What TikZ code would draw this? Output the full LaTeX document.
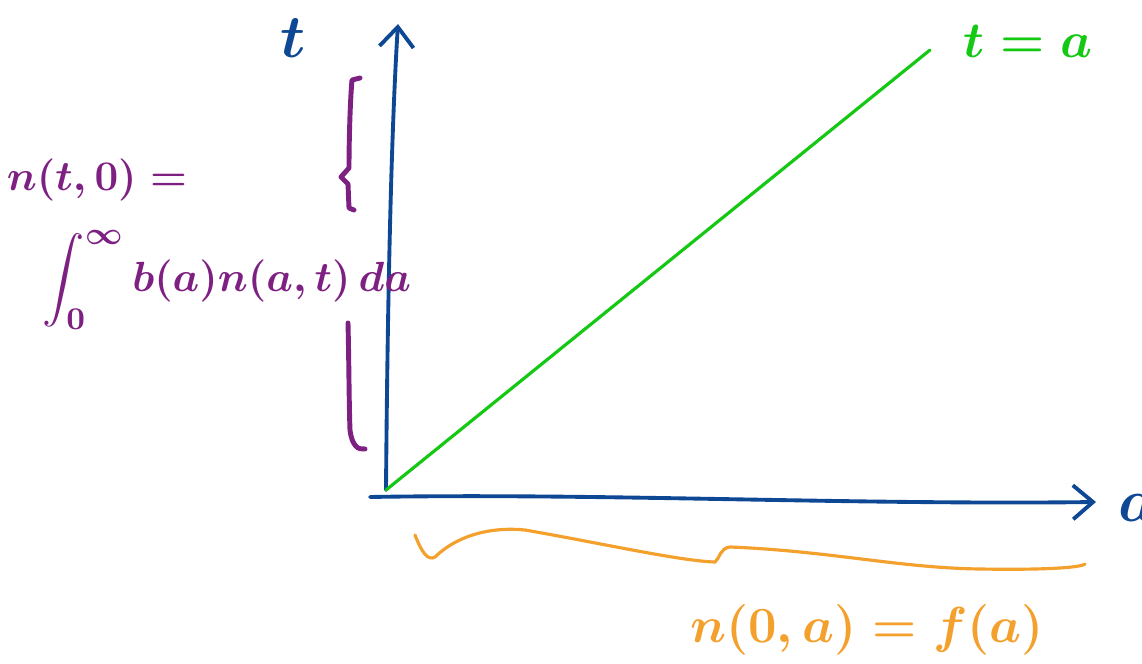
\documentclass[tikz,border=0pt]{standalone}
\usepackage{amsmath}
\usetikzlibrary{arrows.meta,positioning}
\definecolor{axisblue}{RGB}{14,72,148}
\definecolor{linegreen}{RGB}{20,200,20}
\definecolor{bcpurple}{RGB}{125,32,130}
\definecolor{icorange}{RGB}{244,160,45}

\begin{document}
\begin{tikzpicture}[
  axis/.style={draw=axisblue, line width=1.1pt, line cap=round, -{Straight Barb[length=2mm, width=3.4mm, line width=1.1pt]}},
  diag/.style={draw=linegreen, line width=0.9pt, line cap=round},
  bcbrace/.style={draw=bcpurple, line width=1.4pt, line cap=round, line join=round},
  icbrace/.style={draw=icorange, line width=0.9pt, line cap=round},
  lab/.style={inner sep=1pt, font=\fontsize{17}{20}\selectfont\boldmath},
  bclab/.style={inner sep=0pt, text=bcpurple, font=\fontsize{13}{16}\selectfont\boldmath}
]
\useasboundingbox (0,0) rectangle (11.42,6.63);

\coordinate (origin) at (3.86,1.73);
\coordinate (tstart) at (3.86,1.73);
\coordinate (ttip) at (3.98,6.39);
\coordinate (astart) at (3.70,1.66);
\coordinate (atip) at (10.96,1.61);
\coordinate (diagend) at (9.30,6.13);

% axes
\draw[axis] (tstart) .. controls (3.88,4.2) and (3.93,5.6) .. (ttip);
\draw[axis] (astart) .. controls (6.0,1.70) and (8.5,1.58) .. (atip);
\node[lab, text=axisblue] (tlab) at (2.93,6.25) {$t$};
\node[lab, text=axisblue, anchor=west] (alab) at (11.14,1.55) {$a$};

% characteristic t = a
\draw[diag] (origin) -- (diagend);
\node[lab, text=linegreen, font=\fontsize{14}{17}\selectfont\boldmath] (diaglab) at (10.28,6.22) {$t=a$};

% boundary condition at a = 0
\draw[bcbrace] (3.60,5.85) -- (3.52,5.83) .. controls (3.50,5.6) and (3.49,5.2) .. (3.49,4.95)
  -- (3.41,4.86) -- (3.48,4.79) -- (3.49,4.55) -- (3.54,4.53);
\draw[bcbrace] (3.48,3.40) .. controls (3.49,3.0) and (3.49,2.6) .. (3.50,2.33)
  .. controls (3.52,2.17) and (3.58,2.13) .. (3.65,2.14);
\node[bclab] (bctop) at (0.97,4.83) {$n(t,0)=$};
\node[bclab] (bcint) at (2.27,3.83) {$\displaystyle\int_0^\infty b(a)n(a,t)\,da$};

% initial condition at t = 0
\draw[icbrace] (4.15,1.28) .. controls (4.22,1.10) and (4.28,1.02) .. (4.35,1.06)
  .. controls (4.60,1.30) and (4.95,1.36) .. (5.25,1.33)
  .. controls (6.00,1.20) and (6.80,1.02) .. (7.15,1.01)
  .. controls (7.20,1.05) and (7.20,1.15) .. (7.30,1.16)
  .. controls (8.30,1.12) and (9.00,0.95) .. (9.80,0.94)
  .. controls (10.40,0.93) and (10.80,0.95) .. (10.85,0.99);
\node[lab, text=icorange, font=\fontsize{15}{18}\selectfont\boldmath] (iclab) at (8.67,0.33) {$n(0,a)=f(a)$};

\end{tikzpicture}
\end{document}
